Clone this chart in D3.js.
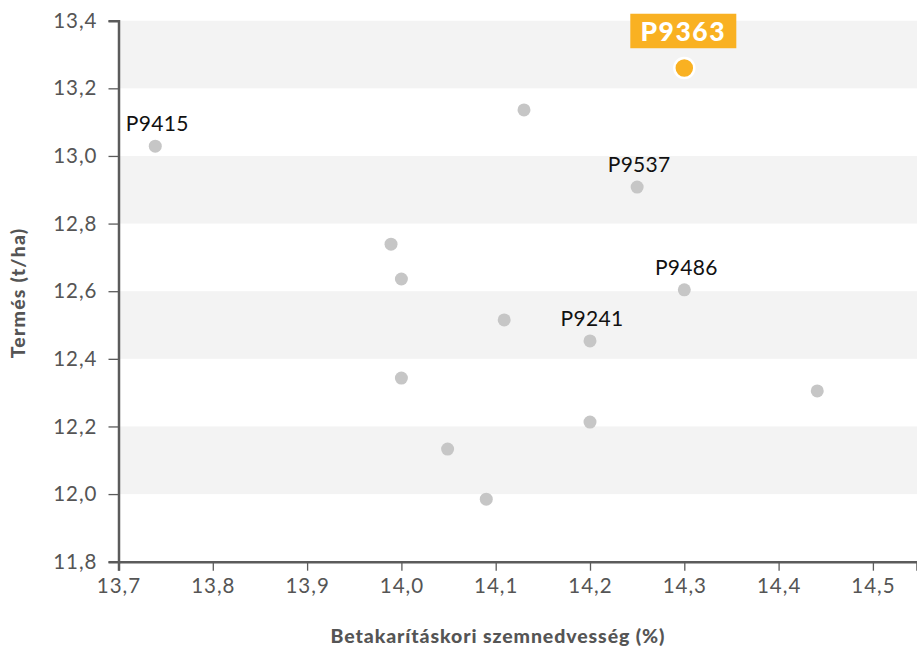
<!DOCTYPE html>
<html>
<head>
<meta charset="utf-8">
<script src="https://cdn.jsdelivr.net/npm/d3@7"></script>
<style>
  html, body { margin: 0; padding: 0; background: #fff; }
  svg { display: block; font-family: Lato, "Noto Sans", sans-serif; }
</style>
</head>
<body>
<svg id="chart" width="917" height="646"></svg>
<script>
// ---- data ----
const names = ["P9363", "P9415", "", "P9537", "", "", "P9486", "", "P9241", "", "", "", "", ""];
const moisture = [14.30, 13.739, 14.130, 14.250, 13.989, 14.000, 14.300, 14.109, 14.200, 14.000, 14.441, 14.200, 14.049, 14.090];
const yieldT   = [13.260, 13.029, 13.136, 12.908, 12.739, 12.636, 12.604, 12.515, 12.453, 12.343, 12.305, 12.213, 12.133, 11.985];
const highlight = "P9363";
const xTicks = [13.7, 13.8, 13.9, 14.0, 14.1, 14.2, 14.3, 14.4, 14.5];
const yTicks = [11.8, 12.0, 12.2, 12.4, 12.6, 12.8, 13.0, 13.2, 13.4];
const bands = [[13.2, 13.4], [12.8, 13.0], [12.4, 12.6], [12.0, 12.2]];
const xTitle = "Betakarításkori szemnedvesség (%)";
const yTitle = "Termés (t/ha)";

(function () {
// ---- layout ----
const svg = d3.select("#chart");
const mLeft = 118.5, mRight = 917, mTop = 20.7, mBottom = 561.7;
const x = d3.scaleLinear().domain([13.7, 13.7 + (mRight - mLeft) / 943]).range([mLeft, mRight]);
const y = d3.scaleLinear().domain([11.8, 13.4]).range([mBottom, mTop]);
const fmt = d => d3.format(".1f")(d).replace(".", ",");
const axisColor = "#5b5b5b";

// bands
svg.append("g").selectAll("rect").data(bands).join("rect")
  .attr("x", mLeft).attr("width", mRight - mLeft)
  .attr("y", d => y(d[1])).attr("height", d => y(d[0]) - y(d[1]))
  .attr("fill", "#f3f3f3");

// y axis
const gy = svg.append("g").attr("transform", `translate(${mLeft},0)`)
  .call(d3.axisLeft(y).tickValues(yTicks).tickFormat(fmt).tickSize(10).tickPadding(11));
gy.select(".domain").attr("stroke", axisColor).attr("stroke-width", 2.5);
gy.selectAll(".tick line").attr("stroke", axisColor).attr("stroke-width", 1.3);
gy.selectAll(".tick text").attr("fill", "#555").attr("font-size", 20.5)
  .attr("letter-spacing", 1).attr("font-family", "Lato, sans-serif");

// x axis
const gx = svg.append("g").attr("transform", `translate(0,${mBottom})`)
  .call(d3.axisBottom(x).tickValues(xTicks).tickFormat(fmt).tickSize(9).tickPadding(8));
gx.select(".domain").attr("stroke", axisColor).attr("stroke-width", 2.5);
gx.selectAll(".tick line").attr("stroke", axisColor).attr("stroke-width", 1.3);
gx.selectAll(".tick text").attr("fill", "#555").attr("font-size", 20.5)
  .attr("letter-spacing", 1).attr("font-family", "Lato, sans-serif");

// points data
const pts = moisture.map((m, i) => ({ x: m, y: yieldT[i], name: names[i] }));

// gray points
svg.append("g").selectAll("circle").data(pts.filter(d => d.name !== highlight)).join("circle")
  .attr("cx", d => x(d.x)).attr("cy", d => y(d.y)).attr("r", 6.5)
  .attr("fill", "#c6c6c6");

// labels
svg.append("g").selectAll("text").data(pts.filter(d => d.name && d.name !== highlight)).join("text")
  .attr("x", d => x(d.x) + 2).attr("y", d => y(d.y) - 15)
  .attr("text-anchor", "middle").attr("font-size", 21).attr("fill", "#111")
  .attr("letter-spacing", 0.3).attr("font-family", "Lato, sans-serif")
  .text(d => d.name);

// highlighted
const h = pts.find(d => d.name === highlight);
svg.append("circle").attr("cx", x(h.x)).attr("cy", y(h.y)).attr("r", 10)
  .attr("fill", "#f9b122").attr("stroke", "#fff").attr("stroke-width", 2.5);
const bw = 106, bh = 34.5;
svg.append("rect").attr("x", x(h.x) - bw / 2 - 1).attr("y", y(h.y) - 54.3)
  .attr("width", bw).attr("height", bh).attr("fill", "#f9b122");
svg.append("text").attr("x", x(h.x) - 1).attr("y", y(h.y) - 27)
  .attr("text-anchor", "middle").attr("font-size", 26.5).attr("font-weight", 900)
  .attr("letter-spacing", 1.5)
  .attr("fill", "#fff").attr("font-family", "Lato, sans-serif").text(h.name);

// axis titles
svg.append("text").attr("x", 498).attr("y", 643).attr("text-anchor", "middle")
  .attr("font-size", 19.5).attr("font-weight", 900).attr("letter-spacing", 0.9)
  .attr("fill", "#555").text(xTitle);
svg.append("text").attr("transform", "translate(25,293) rotate(-90)").attr("text-anchor", "middle")
  .attr("font-size", 19.5).attr("font-weight", 900).attr("letter-spacing", 1.2)
  .attr("fill", "#555").text(yTitle);
})();
</script>
</body>
</html>
